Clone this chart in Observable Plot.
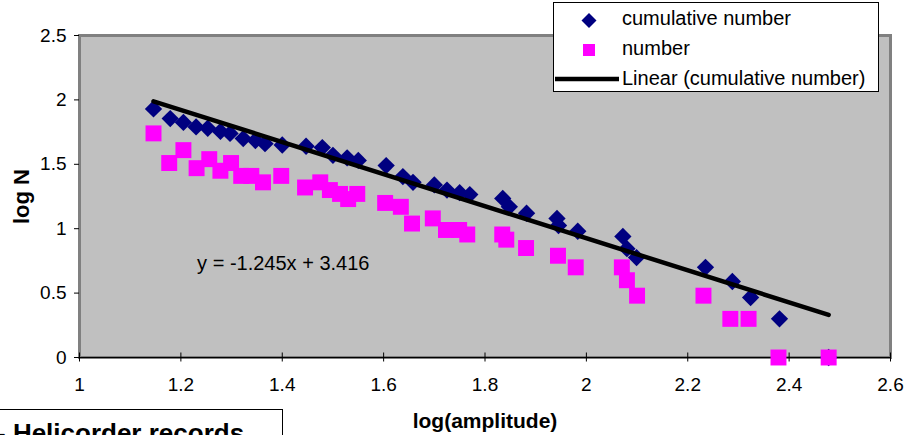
<!DOCTYPE html>
<html>
<head>
<meta charset="utf-8">
<script src="https://cdn.jsdelivr.net/npm/d3@7"></script>
<script src="https://cdn.jsdelivr.net/npm/@observablehq/plot@0.6"></script>
<style>
  html, body { margin: 0; padding: 0; background: #fff; }
  #wrap { position: relative; width: 911px; height: 435px; overflow: hidden;
          font-family: "Liberation Sans", Arial, sans-serif; }
  #chart { position: absolute; left: 0; top: 0; }
  #legend { position: absolute; left: 553px; top: 2px; width: 326px; height: 90px;
            background: #fff; border: 1px solid #000; box-sizing: border-box; }
  #legend .item { position: absolute; left: 68px; font-size: 20px; line-height: 20px; color: #000; white-space: nowrap; }
  #legend svg { position: absolute; left: 0; top: 0; }
  #note { position: absolute; left: -12px; top: 409px; width: 295px; height: 40px;
          background: #fff; border: 1.5px solid #000; box-sizing: border-box; }
  #note span { position: absolute; left: 8px; top: 10px; font-size: 26px; font-weight: bold;
               line-height: 26px; white-space: nowrap; color: #000; }
</style>
</head>
<body>
<div id="wrap">
  <div id="chart"></div>
  <div id="legend">
    <svg width="326" height="90">
      <path d="M35,10 L42.5,17.5 L35,25 L27.5,17.5 Z" fill="#000080"/>
      <rect x="29" y="41" width="12" height="12" fill="#ff00ff"/>
      <line x1="1" y1="76" x2="65" y2="76" stroke="#000" stroke-width="4.5"/>
    </svg>
    <div class="item" style="top:5px">cumulative number</div>
    <div class="item" style="top:35px">number</div>
    <div class="item" style="top:65px">Linear (cumulative number)</div>
  </div>
  <div id="note"><span>- Helicorder records</span></div>
</div>
<script>
// log(amplitude) bins and log N of events at or above each amplitude
const cumX = [1.146, 1.179, 1.205, 1.230, 1.253, 1.278, 1.297, 1.323, 1.347, 1.366,
              1.400, 1.447, 1.479, 1.500, 1.528, 1.550, 1.605, 1.638, 1.658, 1.700,
              1.725, 1.750, 1.770, 1.835, 1.848, 1.882, 1.942, 1.945, 1.983, 2.072,
              2.080, 2.099, 2.235, 2.288, 2.324, 2.381, 2.478];
const cumLogN = [1.93, 1.855, 1.825, 1.79, 1.78, 1.755, 1.74, 1.70, 1.685, 1.66,
                 1.65, 1.64, 1.63, 1.57, 1.55, 1.53, 1.49, 1.405, 1.36, 1.34,
                 1.30, 1.28, 1.265, 1.235, 1.17, 1.12, 1.08, 1.025, 0.98, 0.94,
                 0.845, 0.776, 0.70, 0.59, 0.466, 0.30, 0];

// log(amplitude) bins and log N of events in each bin
const numX = [1.146, 1.177, 1.205, 1.231, 1.256, 1.278, 1.299, 1.319, 1.339, 1.362,
              1.398, 1.445, 1.475, 1.494, 1.514, 1.530, 1.548, 1.603, 1.634, 1.656,
              1.697, 1.723, 1.749, 1.765, 1.834, 1.842, 1.881, 1.944, 1.979, 2.070,
              2.080, 2.100, 2.231, 2.284, 2.320, 2.379, 2.478];
const numLogN = [1.74, 1.51, 1.61, 1.47, 1.54, 1.45, 1.51, 1.41, 1.41, 1.36,
                 1.41, 1.32, 1.36, 1.30, 1.27, 1.23, 1.27, 1.20, 1.17, 1.04,
                 1.08, 0.99, 0.99, 0.955, 0.955, 0.915, 0.85, 0.79, 0.70, 0.70,
                 0.60, 0.48, 0.48, 0.30, 0.30, 0, 0];

// Linear fit to the cumulative series
const fitSlope = -1.245;
const fitIntercept = 3.416;
const fitLabel = "y = -1.245x + 3.416";

const xTicks = [1, 1.2, 1.4, 1.6, 1.8, 2, 2.2, 2.4, 2.6];
const yTicks = [0, 0.5, 1, 1.5, 2, 2.5];

const cumulative = cumX.map((x, i) => ({x, y: cumLogN[i]}));
const counts = numX.map((x, i) => ({x, y: numLogN[i]}));
const x0 = d3.min(cumX), x1 = d3.max(cumX);
const fit = [x0, x1].map(x => ({x, y: fitSlope * x + fitIntercept}));
const fmt = d => String(+d.toFixed(1));

const chart = Plot.plot({
  width: 911,
  height: 435,
  marginLeft: 79,
  marginRight: 21,
  marginTop: 35,
  marginBottom: 78,
  style: {fontFamily: "'Liberation Sans', Arial, sans-serif", fontSize: "19px", background: "transparent", color: "#000"},
  x: {domain: [1, 2.6], label: null},
  y: {domain: [0, 2.5], label: null},
  marks: [
    Plot.frame({fill: "#c0c0c0", stroke: "#808080", strokeWidth: 3}),
    Plot.ruleY([0], {stroke: "#000", strokeWidth: 1.2}),
    Plot.axisY({ticks: yTicks, tickSize: 5, tickPadding: 8, tickFormat: fmt, fontSize: 19}),
    Plot.axisX({ticks: xTicks, tickSize: 9, dy: -4.5, tickFormat: () => ""}),
    Plot.axisX({ticks: xTicks, tickSize: 0, tickPadding: 20, tickFormat: fmt, fontSize: 19}),
    Plot.dot(cumulative, {x: "x", y: "y", symbol: "diamond2", r: 7.8, fill: "#000080"}),
    Plot.dot(counts, {x: "x", y: "y", symbol: "square", r: 9, fill: "#ff00ff"}),
    Plot.line(fit, {x: "x", y: "y", stroke: "#000", strokeWidth: 4.5}),
    Plot.text([fitLabel], {x: 1.232, y: 0.73, text: d => d, textAnchor: "start", fontSize: 20, fill: "#000"}),
    Plot.text(["log(amplitude)"], {frameAnchor: "bottom", dy: 64, textAnchor: "middle", lineAnchor: "middle",
                                   fontSize: 21, fontWeight: "bold", fill: "#000"}),
    Plot.text(["log N"], {frameAnchor: "left", dx: -58, rotate: -90, textAnchor: "middle", lineAnchor: "middle",
                          fontSize: 22, fontWeight: "bold", fill: "#000"})
  ]
});
document.getElementById("chart").appendChild(chart);
</script>
</body>
</html>
